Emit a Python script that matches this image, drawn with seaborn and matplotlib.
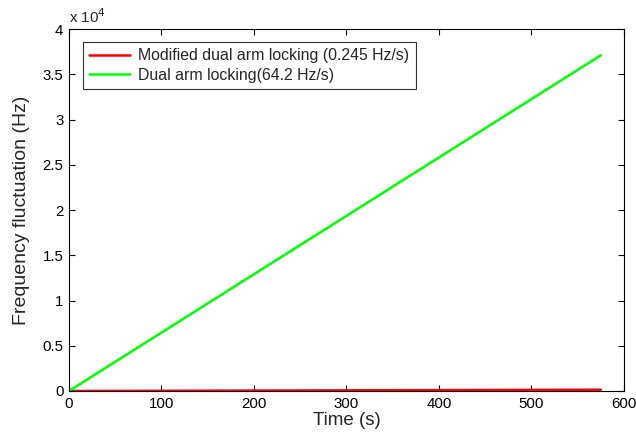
import numpy as np
import pandas as pd
import matplotlib
matplotlib.use("Agg")
import matplotlib.pyplot as plt
import seaborn as sns

time_s = [0, 575]
modified_dal = [0, 141]
dual_al = [0, 37100]
labels = ["Modified dual arm locking (0.245 Hz/s)", "Dual arm locking(64.2 Hz/s)"]
xticks = [0, 100, 200, 300, 400, 500, 600]
yticks = [0, 0.5, 1, 1.5, 2, 2.5, 3, 3.5, 4]

df = pd.DataFrame({
    "t": time_s * 2,
    "f": modified_dal + dual_al,
    "series": [labels[0]] * len(time_s) + [labels[1]] * len(time_s),
})

sns.set_style("white")
plt.rcParams['font.family'] = ['Liberation Sans', 'DejaVu Sans']

fig = plt.figure(figsize=(6.36, 4.41), dpi=100)
ax = fig.add_axes([0.1085, 0.1134, 0.8725, 0.8206])
sns.lineplot(data=df, x="t", y="f", hue="series", palette=["#ff0000", "#00ff00"],
             linewidth=1.8, ax=ax, legend=True)

ax.set_xlim(0, 600)
ax.set_ylim(0, 40000)
ax.set_xticks(xticks)
ax.set_xticklabels([str(v) for v in xticks], fontsize=10.8)
ax.set_yticks([v * 1e4 for v in yticks])
ax.set_yticklabels([f"{v:g}" for v in yticks], fontsize=10.8)
ax.tick_params(direction="in", length=4, width=0.8, bottom=True, left=True,
               top=True, right=True, pad=4, colors="black")
for s in ax.spines.values():
    s.set_color("black")
    s.set_linewidth(0.8)
ax.set_xlabel("Time (s)", fontsize=13.5, labelpad=1)
ax.set_ylabel("Frequency fluctuation (Hz)", fontsize=14, labelpad=9)
ax.text(0.0, 1.008, r"x 10$^{4}$", transform=ax.transAxes, fontsize=10.8, ha="left", va="bottom")

leg = ax.legend(loc="upper left", bbox_to_anchor=(0.025, 0.965), fontsize=11.4,
                frameon=True, fancybox=False, edgecolor="black", borderpad=0.4,
                handlelength=2.6, handletextpad=0.5, labelspacing=0.3, borderaxespad=0)
leg.get_frame().set_linewidth(0.8)
leg.set_title(None)

fig.savefig("out.png", dpi=100)
